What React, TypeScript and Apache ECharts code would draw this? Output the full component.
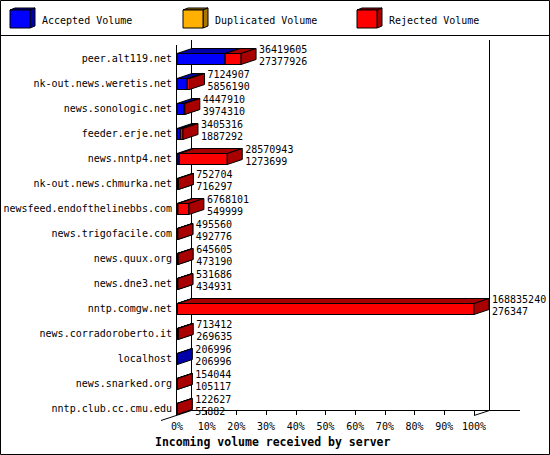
import { useEffect, useRef } from "react";
import * as echarts from "echarts";

// servers, top to bottom
const categories = [
	"peer.alt119.net",
	"nk-out.news.weretis.net",
	"news.sonologic.net",
	"feeder.erje.net",
	"news.nntp4.net",
	"nk-out.news.chmurka.net",
	"newsfeed.endofthelinebbs.com",
	"news.trigofacile.com",
	"news.quux.org",
	"news.dne3.net",
	"nntp.comgw.net",
	"news.corradoroberto.it",
	"localhost",
	"news.snarked.org",
	"nntp.club.cc.cmu.edu",
];

// first number printed next to each bar (whole bar)
const totalVolume = [
	36419605, 7124907, 4447910, 3405316, 28570943, 752704, 6768101, 495560,
	645605, 531686, 168835240, 713412, 206996, 154044, 122627,
];

// second number printed next to each bar (blue part)
const acceptedVolume = [
	27377926, 5856190, 3974310, 1887292, 1273699, 716297, 549999, 492776,
	473190, 434931, 276347, 269635, 206996, 105117, 55882,
];

const duplicatedVolume = [0, 0, 0, 0, 0, 0, 0, 0, 0, 0, 0, 0, 0, 0, 0];

const seriesNames = ["Accepted Volume", "Duplicated Volume", "Rejected Volume"];
const frontColors = ["#0000ff", "#ffb000", "#ff0000"];
const darkColors = ["#0000a8", "#a87800", "#a80000"];

const FONT = '"DejaVu Sans Mono", monospace';
const DX = 15;
const DY = 5;

const App: React.FC = () => {
	const chartRef = useRef<HTMLDivElement>(null);

	useEffect(() => {
		if (!chartRef.current) return;
		const chart = echarts.init(chartRef.current, undefined, { renderer: "svg" });

		const maxTotal = Math.max(...totalVolume);
		const toPct = (v: number) => (v / maxTotal) * 100;

		const rows = categories.map((_, i) => {
			const rejected = totalVolume[i] - acceptedVolume[i] - duplicatedVolume[i];
			return [
				i,
				toPct(acceptedVolume[i]),
				toPct(duplicatedVolume[i]),
				toPct(rejected),
				totalVolume[i],
				acceptedVolume[i],
			];
		});

		const renderItem = (_params: any, api: any) => {
			const cat = api.value(0);
			const values = [api.value(1), api.value(2), api.value(3)];
			const c = api.coord([0, cat])[1];
			const yTop = Math.round(c - 5.5) + 0.5;
			const h = 11;
			const children: any[] = [];
			let start = 0;
			values.forEach((v: number, k: number) => {
				if (v <= 0) return;
				const xs = api.coord([start, cat])[0];
				const xe = api.coord([start + v, cat])[0];
				const line = { stroke: "#000", lineWidth: 1 };
				children.push({
					type: "polygon",
					shape: { points: [[xs, yTop], [xs + DX, yTop - DY], [xe + DX, yTop - DY], [xe, yTop]] },
					style: { fill: darkColors[k], ...line },
				});
				children.push({
					type: "rect",
					shape: { x: xs, y: yTop, width: xe - xs, height: h },
					style: { fill: frontColors[k], ...line },
				});
				children.push({
					type: "polygon",
					shape: { points: [[xe, yTop], [xe + DX, yTop - DY], [xe + DX, yTop + h - DY], [xe, yTop + h]] },
					style: { fill: darkColors[k], ...line },
				});
				start += v;
			});
			const xEnd = api.coord([start, cat])[0];
			children.push({
				type: "text",
				style: {
					text: String(api.value(4)),
					x: xEnd + DX + 3,
					y: c - 9,
					fill: "#000",
					font: `10px ${FONT}`,
					align: "left",
					verticalAlign: "middle",
				},
			});
			children.push({
				type: "text",
				style: {
					text: String(api.value(5)),
					x: xEnd + DX + 3,
					y: c + 3,
					fill: "#000",
					font: `10px ${FONT}`,
					align: "left",
					verticalAlign: "middle",
				},
			});
			return { type: "group", children };
		};

		// 3D cubes of the legend
		const legendX = [10, 183, 357];
		const legendGraphics: any[] = [];
		seriesNames.forEach((name, k) => {
			const x = legendX[k];
			const y = 10;
			legendGraphics.push({
				type: "polygon",
				shape: { points: [[x, y], [x + 5, y - 2], [x + 25, y - 2], [x + 20, y]] },
				style: { fill: darkColors[k], stroke: "#000", lineWidth: 1 },
			});
			legendGraphics.push({
				type: "polygon",
				shape: { points: [[x + 20, y], [x + 25, y - 2], [x + 25, y + 16], [x + 20, y + 18]] },
				style: { fill: darkColors[k], stroke: "#000", lineWidth: 1 },
			});
			legendGraphics.push({
				type: "rect",
				shape: { x, y, width: 20, height: 18 },
				style: { fill: frontColors[k], stroke: "#000", lineWidth: 1 },
			});
			legendGraphics.push({
				type: "text",
				x: x + 32,
				y: 20,
				style: { text: name, fill: "#000", font: `10px ${FONT}`, verticalAlign: "middle" },
			});
		});

		const seg = (x1: number, y1: number, x2: number, y2: number, z = 0) => ({
			type: "line",
			z,
			shape: { x1, y1, x2, y2 },
			style: { stroke: "#000", lineWidth: 1 },
		});

		const option = {
			animation: false,
			backgroundColor: "#ffffff",
			title: {
				text: "Incoming volume received by server",
				left: 155,
				top: 436,
				padding: 0,
				textStyle: { fontFamily: FONT, fontWeight: "bold", fontSize: 11.5, color: "#000" },
			},
			grid: { left: 177, right: 76, top: 46, bottom: 34 },
			xAxis: {
				type: "value",
				min: 0,
				max: 100,
				interval: 10,
				offset: -10,
				axisLine: { show: false },
				axisTick: { show: true, length: 4, lineStyle: { color: "#000" } },
				axisLabel: { formatter: "{value}%", color: "#000", fontFamily: FONT, fontSize: 10, margin: 10 },
				splitLine: { show: false },
			},
			yAxis: {
				type: "category",
				inverse: true,
				data: categories,
				axisLine: { show: false },
				axisTick: { show: false },
				axisLabel: { color: "#000", fontFamily: FONT, fontSize: 10, margin: 5 },
			},
			graphic: [
				{
					type: "rect",
					shape: { x: 0.5, y: 0.5, width: 549, height: 454 },
					style: { fill: "none", stroke: "#000", lineWidth: 1 },
				},
				seg(0, 35.5, 550, 35.5),
				seg(191.5, 40, 191.5, 410.5),
				seg(489.5, 40, 489.5, 410.5),
				seg(191.5, 410.5, 520, 410.5),
				seg(161, 420.5, 191.5, 410.5),
				seg(474, 415.5, 489.5, 410.5),
				seg(176.5, 45, 176.5, 415.5, 100),
				...legendGraphics,
			],
			series: [
				{
					type: "custom",
					name: "Volume",
					renderItem,
					encode: { x: [1, 2, 3], y: 0 },
					data: rows,
					z: 10,
				},
			],
		};

		chart.setOption(option as any);

		return () => {
			chart.dispose();
		};
	}, []);

	return (
		<div
			ref={chartRef}
			style={{ position: "fixed", left: 0, top: 0, width: "550px", height: "455px" }}
		/>
	);
};

export default App;
